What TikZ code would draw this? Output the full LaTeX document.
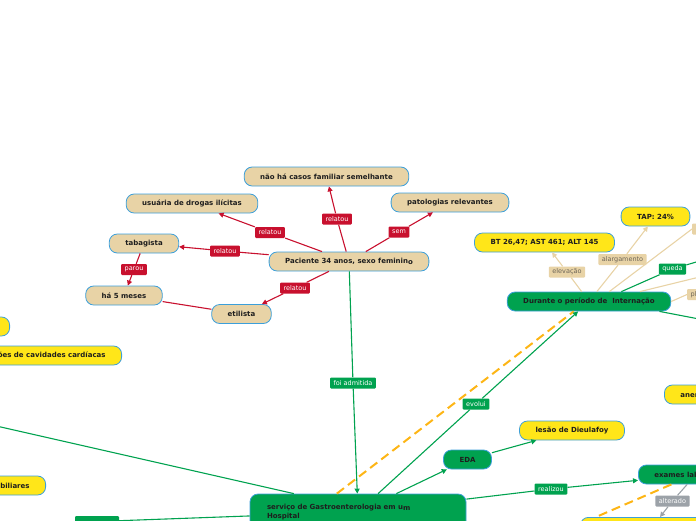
\documentclass[tikz,border=0pt]{standalone}
\usepackage{fontspec}
\setmainfont{DejaVu Sans}
\usepackage{xcolor}
\usetikzlibrary{arrows.meta}

\definecolor{tanfill}{HTML}{E8D3A6}
\definecolor{bluedge}{HTML}{3C9FDA}
\definecolor{crimson}{HTML}{C8102E}
\definecolor{mapgreen}{HTML}{00A24F}
\definecolor{mapyellow}{HTML}{FFE619}
\definecolor{dashorange}{HTML}{FDB515}
\definecolor{labelgray}{HTML}{9CA2A8}
\definecolor{tantext}{HTML}{6E6658}
\definecolor{inktext}{HTML}{1E1E1E}

\begin{document}
\begin{tikzpicture}[
            x=1pt,y=-1pt,
            topic/.style={rectangle,rounded corners=8pt,draw=bluedge,line width=0.8pt,
                minimum height=19pt,inner xsep=16pt,inner ysep=0pt,text=inktext,
                font=\fontsize{7}{9}\selectfont\bfseries},
            tannode/.style={topic,fill=tanfill},
            greennode/.style={topic,fill=mapgreen},
            yellownode/.style={topic,fill=mapyellow},
            tag/.style={rectangle,rounded corners=1pt,inner xsep=3.5pt,inner ysep=0pt,
                minimum height=11pt,font=\fontsize{6.5}{7}\selectfont},
            redtag/.style={tag,fill=crimson,text=white},
            greentag/.style={tag,fill=mapgreen,text=white},
            tantag/.style={tag,fill=tanfill,text=tantext},
            graytag/.style={tag,fill=labelgray,text=white},
            tip/.style={-{Triangle[length=5pt,width=5pt]}},
            redarc/.style={draw=crimson,line width=1.1pt},
            greenarc/.style={draw=mapgreen,line width=1.1pt},
            tanarc/.style={draw=tanfill,line width=1.1pt},
            grayarc/.style={draw=labelgray,line width=1.1pt},
            dashline/.style={draw=dashorange,line width=2pt,dash pattern=on 9pt off 5pt}
        ]
            \useasboundingbox (0,0) rectangle (696,520);
            \clip (0,0) rectangle (696,520);

            % Patient history
            \node[tannode] (pac) at (349,261.5) {Paciente 34 anos, sexo feminin\raisebox{-1.2pt}{o}};
            \node[tannode] (naoha) at (326.5,176.5) {não há casos familiar semelhante};
            \node[tannode] (usuaria) at (192,203.5) {usuária de drogas ilícitas};
            \node[tannode] (patol) at (450,202.5) {patologias relevantes};
            \node[tannode] (tabag) at (144,243.5) {tabagista};
            \node[tannode] (hames) at (124,295.5) {há 5 meses};
            \node[tannode] (etil) at (241.5,314) {etilista};

            \node[redtag] (r1) at (337,219) {relatou};
            \node[redtag] (r2) at (270,232.5) {relatou};
            \node[redtag] (r3) at (399,232) {sem};
            \node[redtag] (r4) at (225,251) {relatou};
            \node[redtag] (r5) at (134,269.5) {parou};
            \node[redtag] (r6) at (295,288) {relatou};

            \draw[redarc,tip] (pac) -- (r1) -- (naoha);
            \draw[redarc,tip] (pac) -- (r2) -- (usuaria);
            \draw[redarc,tip] (pac) -- (r3) -- (patol);
            \draw[redarc,tip] (pac) -- (r4) -- (tabag);
            \draw[redarc,tip] (tabag) -- (r5) -- (hames);
            \draw[redarc,tip] (pac) -- (r6) -- (etil);
            \draw[redarc] (hames) -- (etil);

            % Hospital stay
            \node[greennode,minimum width=216pt,minimum height=36pt,text width=182pt,align=left]
                (serv) at (358,512) {serviço de Gastroenterologia em u\raisebox{-1.2pt}{m}\\Hospital};
            \node[greennode] (eda) at (467.5,459.5) {EDA};
            \node[greennode] (durante) at (589,301.5) {Durante o período de\ \ Internação};
            \node[greennode,anchor=west] (exames) at (638,474.5) {exames laboratoriais};

            \node[yellownode] (tap) at (655.5,216.5) {TAP: 24\%};
            \node[yellownode] (bt) at (544.5,242.5) {BT 26,47; AST 461; ALT 145};
            \node[yellownode] (lesao) at (572,430.5) {lesão de Dieulafoy};
            \node[yellownode,anchor=west] (anemia) at (664,394.5) {anemia};
            \node[yellownode,anchor=east,minimum width=90pt] (yleft) at (10,326.5) {};
            \node[yellownode,anchor=east] (dilat) at (122,355.5) {dilatações de cavidades cardíacas};
            \node[yellownode,anchor=east] (biliar) at (46,485.5) {vias biliares};
            \node[yellownode,anchor=north west,minimum width=200pt] (boty) at (580,517) {};

            \node[greentag] (admit) at (353,383) {foi admitida};
            \node[greentag] (evolui) at (476,404) {evolui};
            \node[greentag] (realiz) at (551,489) {realizou};
            \node[greentag,minimum width=44pt] (gleft) at (97,521.5) {};
            \node[greentag] (queda) at (672.5,269) {queda};
            \node[graytag] (alter) at (672.5,501) {alterado};
            \node[tantag] (elev) at (567,272) {elevação};
            \node[tantag] (alarg) at (622.5,259.5) {alargamento};
            \node[tantag,anchor=west] (plaq) at (687,294.5) {plaquetas};
            \node[tantag,anchor=west] (redu) at (692,229) {redução};

            \coordinate (westend) at (-30,420);
            \coordinate (tanend) at (720,272);
            \coordinate (quedaend) at (720,255);
            \coordinate (lowend) at (720,323);

            \draw[greenarc,tip] (pac) -- (admit) -- (serv);
            \draw[dashline] (serv.139) -- (durante.213);
            \draw[greenarc,tip] (serv) -- (evolui) -- (durante);
            \draw[greenarc,tip] (serv) -- (eda);
            \draw[greenarc,tip] (eda) -- (lesao);
            \draw[greenarc,tip] (serv) -- (realiz) -- (exames);
            \draw[greenarc] (serv.164) -- (westend);
            \draw[greenarc] (serv) -- (gleft);
            \draw[dashline] (exames.202) -- ([xshift=16pt]boty.north west);
            \draw[grayarc,tip] (exames) -- (alter) -- ([xshift=80pt]boty.north west);

            % Findings during the stay
            \draw[tanarc,tip] (durante) -- (elev) -- (bt);
            \draw[tanarc,tip] (durante) -- (alarg) -- (tap);
            \draw[tanarc] (durante.26) -- (redu.west);
            \draw[tanarc] (durante.11) -- (tanend);
            \draw[tanarc] (durante.east) -- (plaq.west);
            \draw[greenarc] (durante.17) -- (queda) -- (quedaend);
            \draw[greenarc] (durante.-8) -- (lowend);
        \end{tikzpicture}
\end{document}
